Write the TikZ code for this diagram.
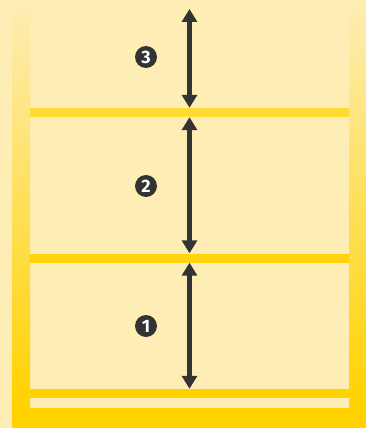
\documentclass[tikz,border=0pt]{standalone}
\usepackage{fontspec}
\newfontfamily\badgefont{Fira Sans}
\usetikzlibrary{arrows.meta}
\definecolor{panel}{HTML}{FEEDB5}
\definecolor{gold}{HTML}{FFD200}
\definecolor{ink}{HTML}{333333}

\begin{document}
\begin{tikzpicture}[
        x=1pt, y=-1pt,
        post/.style={
            draw=none,
            top color=panel,
            middle color=gold!85!panel,
            bottom color=gold
        },
        shelf/.style={
            draw=none,
            minimum width=319pt,
            minimum height=9pt,
            inner sep=0pt
        },
        badge/.style={
            circle,
            fill=ink,
            text=white,
            minimum size=22pt,
            inner sep=0pt,
            font=\badgefont\bfseries\fontsize{18}{18}\selectfont
        },
        span/.style={
            draw=ink,
            line width=4.5pt,
            {Triangle[width=15pt,length=13pt]}-{Triangle[width=15pt,length=13pt]}
        }
    ]
        % Background
        \fill[panel] (0,0) rectangle (366,428);
        \useasboundingbox (0,0) rectangle (366,428);

        % Posts
        \shade[post] (12,0) rectangle (30,408);
        \shade[post] (349,0) rectangle (366,408);

        % Shelves
        \node[shelf, fill=gold!72!panel] (s3) at (189.5,112.5) {};
        \node[shelf, fill=gold!92!panel] (s2) at (189.5,258) {};
        \node[shelf, fill=gold] (s1) at (189.5,393.5) {};

        % Base
        \fill[gold] (12,408) rectangle (366,428);

        % Top end of the upper arrow
        \coordinate (top) at (189.5,9);

        % Heights
        \draw[span] (top) -- (s3.north);
        \draw[span] (s3.south) -- (s2.north);
        \draw[span] (s2.south) -- (s1.north);

        % Numbers
        \node[badge] (n3) at (146,57) {3};
        \node[badge] (n2) at (146,186) {2};
        \node[badge] (n1) at (146,326) {1};

    \end{tikzpicture}
\end{document}
